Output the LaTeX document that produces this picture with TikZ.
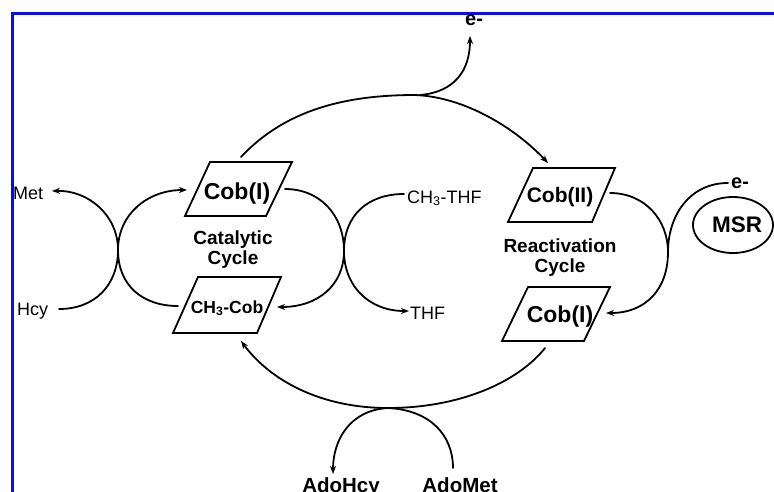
\documentclass[tikz,border=0pt]{standalone}
\usepackage{fontspec}
\setmainfont{Liberation Sans}
\usetikzlibrary{arrows.meta,shapes.geometric}
\begin{document}
\begin{tikzpicture}[x=1pt,y=-1pt,
  ln/.style={line width=1.8pt,line cap=round},
  arr/.style={ln,-{Stealth[length=8pt,width=6pt]}},
  plg/.style={line width=1.8pt,line join=miter},
  rg/.style={inner sep=0pt,anchor=base,font=\fontsize{18}{18}\selectfont},
  rgw/.style={rg,anchor=base west},
  bd/.style={inner sep=0pt,anchor=base,font=\bfseries\fontsize{19}{19}\selectfont},
  cob/.style={inner sep=0pt,anchor=base,font=\bfseries\fontsize{23}{23}\selectfont},
  ee/.style={inner sep=0pt,anchor=base west,font=\bfseries\fontsize{20}{20}\selectfont},
  ado/.style={inner sep=0pt,anchor=base,font=\bfseries\fontsize{20.5}{20.5}\selectfont}]
\useasboundingbox (0,0) rectangle (774,491);
\clip (0,0) rectangle (774,491);
\fill[white] (0,0) rectangle (774,491);
% blue frame
\draw[line width=3pt,color={rgb,255:red,10;green,10;blue,245}] (12,495) -- (12,13) -- (778,13);

% parallelograms
\draw[plg] (185,216) -- (266,216) -- (292,162) -- (210,162) -- cycle;
\draw[plg] (173,333) -- (257,333) -- (281,277) -- (198,277) -- cycle;
\draw[plg] (508,222) -- (592,222) -- (615,168) -- (533,168) -- cycle;
\draw[plg] (502,341) -- (584,341) -- (610,287) -- (528,287) -- cycle;

% text nodes
\node[cob] (cobA) at (237,199) {Cob(I)};
\node[font=\bfseries\fontsize{17.5}{17.5}\selectfont,inner sep=0pt,anchor=base] (ch3cob) at (227,313) {CH\textsubscript{3}-Cob};
\node[cob,font=\bfseries\fontsize{21}{21}\selectfont] (cobII) at (560,202) {Cob(II)};
\node[cob] (cobB) at (560,322) {Cob(I)};
\node[bd] (cat) at (233,244) {Catalytic};
\node[bd] (cyc1) at (233,264) {Cycle};
\node[bd] (react) at (560,252) {Reactivation};
\node[bd] (cyc2) at (560,272) {Cycle};
\node[rgw] (met) at (13,199.5) {Met};
\node[rgw] (hcy) at (17,315) {Hcy};
\node[rgw] (ch3thf) at (407,203) {CH\textsubscript{3}-THF};
\node[rgw] (thf) at (410,319) {THF};
\node[ee] (etop) at (465,25) {e-};
\node[ee] (eright) at (731,188) {e-};
\node[ado] (adohcy) at (341,492) {AdoHcy};
\node[ado] (adomet) at (460,492) {AdoMet};
\node[draw,ellipse,line width=1.8pt,minimum width=80pt,minimum height=56pt,inner sep=0pt] (msr) at (733,225) {};
\node[inner sep=0pt,anchor=base,font=\bfseries\fontsize{22.5}{22.5}\selectfont] (msrt) at (737,232) {MSR};

% junction and end coordinates
\coordinate (jL) at (118,250);
\coordinate (jR) at (344,251);
\coordinate (jQ) at (668,252);
\coordinate (jT) at (415,95);
\coordinate (jB) at (388,408);
\coordinate (metE) at (52,191);
\coordinate (cobAin) at (187,190);
\coordinate (hcyE) at (59,309);
\coordinate (cobBl) at (178,306);
\coordinate (cobAr) at (285,189);
\coordinate (thfIn) at (404,194);
\coordinate (cobBr) at (277,307);
\coordinate (thfE) at (409,311);
\coordinate (cobIIr) at (610,193);
\coordinate (eR) at (728,183);
\coordinate (cobBin) at (606,313);
\coordinate (cobAt) at (241,157);
\coordinate (cobIIt) at (548,163);
\coordinate (eT) at (470,36);
\coordinate (cobBb) at (545,348);
\coordinate (ch3b) at (241,341);
\coordinate (adohcyE) at (333,474);
\coordinate (adometE) at (453,468);

% catalytic left junction
\draw[arr] (jL) .. controls (118,215) and (88,190) .. (metE);
\draw[arr] (jL) .. controls (118,214) and (148,190) .. (cobAin);
\draw[ln] (jL) .. controls (118,285) and (95,309) .. (hcyE);
\draw[ln] (jL) .. controls (118,285) and (142,306) .. (cobBl);

% catalytic right junction
\draw[ln] (cobAr) .. controls (320,189) and (344,215) .. (jR);
\draw[ln] (jR) .. controls (344,215) and (368,194) .. (thfIn);
\draw[arr] (jR) .. controls (344,285) and (318,307) .. (cobBr);
\draw[arr] (jR) .. controls (344,287) and (370,311) .. (thfE);

% reactivation junction
\draw[ln] (cobIIr) .. controls (645,193) and (668,220) .. (jQ);
\draw[ln] (jQ) .. controls (668,215) and (690,183) .. (eR);
\draw[arr] (jQ) .. controls (668,290) and (645,313) .. (cobBin);

% top arc
\draw[ln] (cobAt) .. controls (285,110) and (345,95) .. (jT);
\draw[arr] (jT) .. controls (465,97) and (515,128) .. (cobIIt);
\draw[arr] (420,95) .. controls (455,92) and (470,70) .. (eT);

% bottom arc
\draw[ln] (cobBb) .. controls (518,382) and (460,408) .. (jB);
\draw[arr] (jB) .. controls (320,408) and (270,380) .. (ch3b);
\draw[arr] (jB) .. controls (350,410) and (333,440) .. (adohcyE);
\draw[ln] (jB) .. controls (430,410) and (453,435) .. (adometE);
\end{tikzpicture}
\end{document}
